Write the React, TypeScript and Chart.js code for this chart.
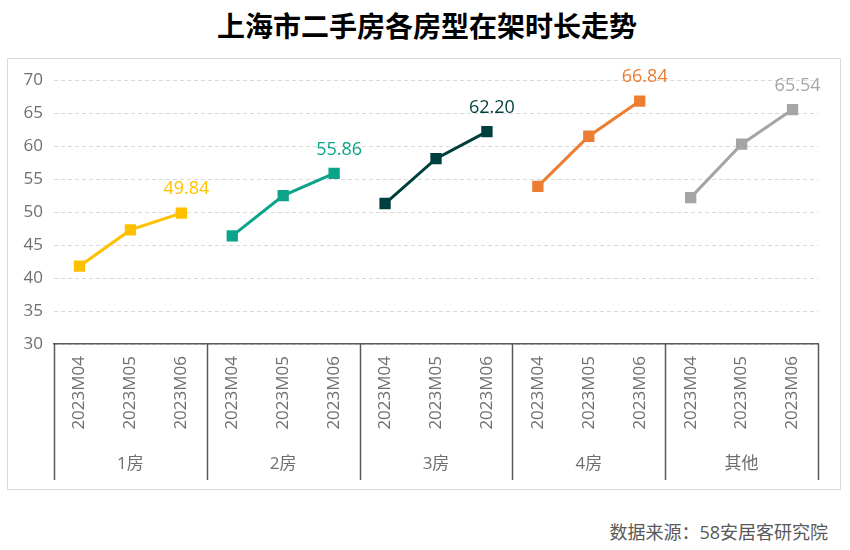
import { useEffect, useRef } from "react"
import { Chart, registerables } from "chart.js"

Chart.register(...registerables)

const months = ["2023M04", "2023M05", "2023M06"]
const groups = ["1房", "2房", "3房", "4房", "其他"]

const room1 = [41.8, 47.3, 49.84]
const room2 = [46.4, 52.5, 55.86]
const room3 = [51.3, 58.1, 62.2]
const room4 = [53.9, 61.5, 66.84]
const others = [52.2, 60.3, 65.54]

const seriesValues = [room1, room2, room3, room4, others]
const seriesColors = ["#FFC000", "#0BA48A", "#003F3F", "#ED7D31", "#A5A5A5"]

const yTicks = [30, 35, 40, 45, 50, 55, 60, 65, 70]

const FONT = "'Open Sans', 'Noto Sans CJK SC', sans-serif"
const CJK_FONT = "'Noto Sans CJK SC', sans-serif"
const TEXT_GRAY = "#6f6f6f"

// category labels: three months repeated under every room type
const labels = groups.flatMap(() => months)

const groupPlugin = {
  id: "groupPlugin",
  afterDraw(chart: Chart) {
    const ctx = chart.ctx
    const x = chart.scales.x
    const area = chart.chartArea
    const half = (x.getPixelForValue(1) - x.getPixelForValue(0)) / 2

    ctx.save()
    // separators below the axis
    ctx.strokeStyle = "#595959"
    ctx.lineWidth = 1.5
    for (let g = 0; g <= groups.length; g++) {
      const px = Math.round(x.getPixelForValue(g * months.length) - half) + 0.5
      ctx.beginPath()
      ctx.moveTo(px, area.bottom)
      ctx.lineTo(px, x.bottom)
      ctx.stroke()
    }

    // group names
    ctx.fillStyle = TEXT_GRAY
    ctx.font = `17px ${FONT}`
    ctx.textAlign = "center"
    ctx.textBaseline = "middle"
    groups.forEach((name, g) => {
      const px = x.getPixelForValue(g * months.length + 1)
      ctx.fillText(name, px, x.bottom - 16)
    })

    // value label on the last point of each series
    ctx.font = `18px ${FONT}`
    seriesValues.forEach((vals, i) => {
      const meta = chart.getDatasetMeta(i)
      const idx = i * months.length + vals.length - 1
      const pt = meta.data[idx]
      if (!pt) return
      ctx.fillStyle = seriesColors[i]
      ctx.fillText(vals[vals.length - 1].toFixed(2), pt.x + 5, pt.y - 24)
    })
    ctx.restore()
  },
}

function RoomChart() {
  const chartRef = useRef<HTMLCanvasElement>(null)
  const chartInstance = useRef<Chart | null>(null)

  useEffect(() => {
    if (!chartRef.current) return

    if (chartInstance.current) {
      chartInstance.current.destroy()
    }

    const ctx = chartRef.current.getContext("2d")
    if (!ctx) return

    const datasets = seriesValues.map((vals, i) => {
      const data: (number | null)[] = labels.map(() => null)
      vals.forEach((v, j) => {
        data[i * months.length + j] = v
      })
      return {
        label: groups[i],
        data,
        borderColor: seriesColors[i],
        backgroundColor: seriesColors[i],
        borderWidth: 3,
        pointStyle: "rect" as const,
        pointRadius: 8,
        pointHoverRadius: 8,
        pointBorderWidth: 0,
        spanGaps: false,
        tension: 0,
      }
    })

    chartInstance.current = new Chart(ctx, {
      type: "line",
      data: { labels, datasets },
      options: {
        responsive: false,
        animation: false,
        layout: {
          padding: { left: 0, right: 22, top: 21, bottom: 9 },
        },
        plugins: {
          legend: { display: false },
          tooltip: { enabled: false },
        },
        scales: {
          x: {
            offset: true,
            grid: { display: false, drawTicks: false },
            border: { display: true, color: "#595959", width: 1.5 },
            ticks: {
              autoSkip: false,
              minRotation: 90,
              maxRotation: 90,
              padding: 12,
              color: TEXT_GRAY,
              font: { family: FONT, size: 17 },
            },
            afterFit: (scale) => {
              scale.height = 136
            },
          },
          y: {
            min: 30,
            max: 70,
            afterBuildTicks: (scale) => {
              scale.ticks = yTicks.map((v) => ({ value: v }))
            },
            grid: {
              color: "#d9d9d9",
              lineWidth: 1,
              drawTicks: false,
            },
            border: { display: false, dash: [4, 3] },
            ticks: {
              padding: 11,
              color: TEXT_GRAY,
              font: { family: FONT, size: 17 },
            },
            afterFit: (scale) => {
              scale.width = 46
            },
          },
        },
      },
      plugins: [groupPlugin],
    })

    return () => {
      if (chartInstance.current) {
        chartInstance.current.destroy()
      }
    }
  }, [])

  return <canvas ref={chartRef} width={832} height={430} />
}

export default function App() {
  return (
    <div
      style={{
        position: "absolute",
        left: 0,
        top: 0,
        width: 850,
        height: 550,
        background: "#fff",
        fontFamily: CJK_FONT,
      }}
    >
      <div
        style={{
          position: "absolute",
          left: 0,
          top: 6,
          width: 854,
          textAlign: "center",
          fontSize: 28,
          fontWeight: 700,
          color: "#000",
          lineHeight: "38px",
        }}
      >
        上海市二手房各房型在架时长走势
      </div>
      <div
        style={{
          position: "absolute",
          left: 7,
          top: 58,
          width: 832,
          height: 430,
          border: "1px solid #d9d9d9",
        }}
      >
        <RoomChart />
      </div>
      <div
        style={{
          position: "absolute",
          right: 22,
          top: 519,
          fontSize: 18,
          color: "#595959",
          lineHeight: "26px",
          fontFamily: FONT,
        }}
      >
        数据来源：58安居客研究院
      </div>
    </div>
  )
}
